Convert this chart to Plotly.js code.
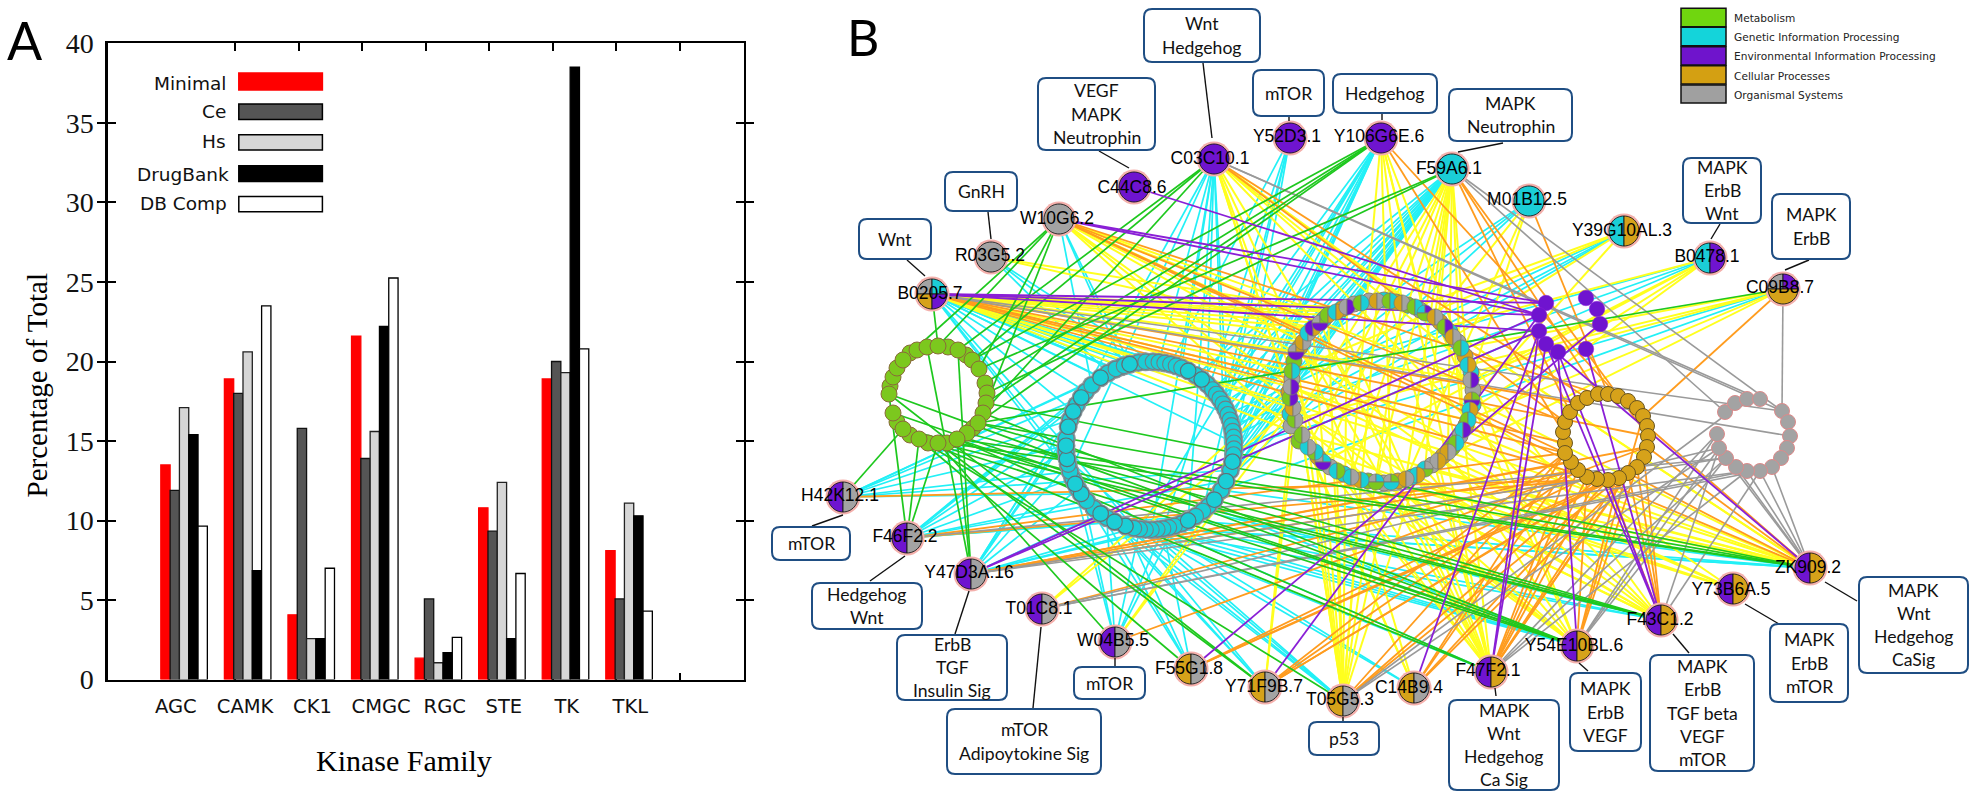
<!DOCTYPE html>
<html><head><meta charset="utf-8">
<script src="https://cdn.plot.ly/plotly-3.0.1.min.js"></script>
<style>html,body{margin:0;padding:0;background:#fff}</style></head>
<body><div id="chart" style="width:1979px;height:800px"></div>
<script>
// ---------- Panel A ----------
const families = ['AGC','CAMK','CK1','CMGC','RGC','STE','TK','TKL'];
const groupCenters = [0.2,1.2,2.2,3.2,4.2,5.2,6.2,7.2];
const familyLabelPos = [0.07,1.16,2.22,3.30,4.30,5.23,6.22,7.22];
const minimal = [13.5,18.9,4.07,21.6,1.35,10.8,18.9,8.1];
const ce = [11.9,18.0,15.8,13.9,5.07,9.33,20.0,5.07];
const hs = [17.1,20.6,2.57,15.6,1.06,12.4,19.3,11.1];
const drugBank = [15.4,6.85,2.57,22.2,1.7,2.57,38.5,10.3];
const dbComp = [9.65,23.5,7.0,25.25,2.66,6.67,20.8,4.3];
const topTicks = [1,2,3,4,5,6,7,8];
const seriesNames = ['Minimal','Ce','Hs','DrugBank','DB Comp'];
const seriesFill = ['#ff0000','#555555','#d6d6d6','#000000','#ffffff'];
const seriesLine = ['#ff0000','#111111','#222222','#000000','#000000'];

// ---------- Panel B : pathway category colours ----------
const categoryNames = ['Metabolism','Genetic Information Processing','Environmental Information Processing','Cellular Processes','Organismal Systems'];
const categoryColors = ['#70d60f','#14d4da','#6f14cc','#d4a012','#a0a0a0'];
const C = {G:'#7cc81e',T:'#1bced6',P:'#6f14cf',Y:'#d6a21a',A:'#a3a3a3'};

// hubs: name, node x, node y, label x, label y, category letters
const hubNames = ['C03C10.1','Y52D3.1','Y106G6E.6','C44C8.6','W10G6.2','R03G5.2','B0205.7','F59A6.1','M01B12.5','Y39G10AL.3','B0478.1','C09B8.7','H42K12.1','F46F2.2','Y47D3A.16','T01C8.1','W04B5.5','F55G1.8','Y71F9B.7','T05G5.3','C14B9.4','F47F2.1','Y54E10BL.6','F43C1.2','Y73B6A.5','ZK909.2'];
const hubX = [1214,1290,1381,1134,1059,991,932,1452,1529,1624,1710,1783,843,907,971,1042,1115,1191,1265,1343,1414,1491,1577,1661,1733,1810];
const hubY = [159,138,138,187,219,257,294,169,201,231,258,289,497,538,574,609,642,669,687,701,688,672,646,620,589,568];
const hubLabelX = [1210,1287,1379,1132,1057,990,930,1449,1527,1622,1707,1780,840,905,969,1039,1113,1189,1264,1340,1409,1488,1574,1660,1731,1808];
const hubLabelY = [160,138,138,189,220,257,295,170,201,232,258,289,497,538,574,610,642,670,688,701,689,672,647,621,591,569];
const hubCats = ['P','P','P','P','A','A','ATYP','T','T','TY','TP','APY','PA','PA','PA','PA','PA','YA','YA','YA','YA','PY','PY','PY','PY','PY'];

// ring nodes
const greenX = [910,890,897,910,928,947,973,966,948,958,972,979,985,987,986,983,978,967,957,938,919,903,893,889,893,897,903,917,927,938];
const greenY = [353,386,422,435,443,443,428,355,347,350,360,369,383,393,403,413,423,433,439,443,439,429,413,394,377,368,360,350,347,346];
const tealCx = 1150, tealCy = 445.7, tealR = 84;
const tealAngles = [-25,-20,-14,-8,-3,2,6,10,14,18,22,27,33,38,43,48,52,56,60,64,68,72,76,80,84,88,92,96,101,107,115,122,130,136,141,147,153,158,163,167,171,175,179,183,187,191,197,205,211,216,222,229,235,239,243,247,252,257,261,266,270,275,283,288,294,299,305,310,316,324,330,336,342,346];
const tealTopAngles = [-14,27,38,101,115,130,153,197,205,216,235,243,261,270,283,294,305,324];
const mixedBackX = [1369,1384,1396,1408,1420,1440,1450,1458,1465,1471,1473,1473,1466,1460,1452,1443,1432,1412,1398,1384,1368,1344,1330,1318,1299,1291,1290,1292,1289,1294,1300,1324,1342,1354];
const mixedBackY = [301,300,302,305,310,322,332,342,356,372,390,405,425,436,448,456,465,477,481,483,481,474,467,457,441,426,414,379,392,361,347,319,309,304];
const mixedBackCats = ['A','T','Y','G','A','Y','T','A','Y','T','A','T','Y','A','G','Y','A','T','Y','A','G','T','A','Y','G','A','T','A','Y','G','Y','T','Y','A'];
const mixedX = [1377,1390,1402,1415,1425,1435,1445,1453,1461,1468,1471,1472,1470,1468,1463,1456,1448,1438,1425,1417,1406,1391,1376,1361,1351,1337,1323,1315,1308,1302,1295,1293,1290,1291,1292,1296,1303,1308,1313,1320,1328,1336,1347,1361];
const mixedY = [301,301,303,307,313,317,327,337,348,365,380,400,410,420,430,443,452,461,469,475,479,482,482,480,477,471,462,452,447,435,420,408,398,387,371,352,342,333,328,323,315,312,307,303];
const mixedCats = ['YA','GT','YA','GT','TPG','YA','GP','YA','GT','TY','AP','YGP','TY','GT','TP','GT','YA','AY','TAG','TY','YA','AGT','ATG','YT','TA','TG','ATP','GT','TA','GA','GA','YA','GP','AP','GT','AYP','YA','TA','PY','AGP','GY','TY','AP','GT'];
const goldX = [1565,1563,1565,1570,1578,1587,1598,1608,1618,1628,1637,1643,1647,1648,1647,1644,1637,1628,1619,1608,1597,1587,1578,1571,1565];
const goldY = [443,432,422,412,403,398,394,394,396,401,408,416,426,436,447,457,467,473,478,480,479,477,470,462,453];
const grayX = [1725,1735,1747,1760,1782,1788,1790,1787,1781,1772,1760,1747,1736,1726,1719,1717];
const grayY = [412,403,399,399,411,422,436,448,458,467,471,471,467,458,448,434];
const purpleX = [1546,1586,1597,1539,1600,1539,1546,1558,1586];
const purpleY = [303,298,309,315,324,331,344,352,349];

// edges: for each hub, which ring nodes it links to (same order as hubNames)
const edgeGreen = [[9,10,15],[],[10,12,14,16],[],[11,15,26,29],[],[29],[11,13],[],[],[],[16],[21],[20,23,19],[18,9,28],[],[19],[20],[19,23],[21],[],[18,20],[15,18,20,22,23],[16,17,19,21],[],[14,16,18,20]];
const edgeCyan = [[6,10,14,20,30,36,42,56,64],[8,18,28,34,40],[13,16,18,21,24,26,29,32,44],[],[68,72,2],[70,73,5],[0,3,7,10,57,60,64,67,69,71,73,1,5,55,12,20,25],[12,15,17,19,20,22,23,25,27,28,31,33,35],[18,23,30],[20,24,27],[16,22,28],[26,31],[52,56,60,63,66,69,72,29],[47,51,55,59,62,65,68,71,35,30],[45,49,53,57,61,64,67,70,40,36],[],[40,44,48,55,38,62],[40,46,52,59],[47,54,60],[44,50,58,53],[41,52],[40,47],[33,39,45,49],[34,38,44],[],[31,36,40,46]];
const edgeYellow = [[0,3,6,9,13,23,20,32,26,29],[],[2,4,8,15,21,24],[],[37,36,40,33,25,21,15,10],[38,41],[34,35,36,37,38,39,40,41,42,33,31,30,29,10,13,16],[18,20,22,24,26,28,16,14,12,30,4,5],[5,10,20],[3,7,11,34],[6,10,12,15,26],[8,9,13,17,30],[],[],[],[33,31],[32,31],[],[30,31],[19,21,23,25,27,29,0,2,38,40,42,34,35],[24,28,30],[17,19,21,23,25,27,1,3,7,36,39,41],[16,18,21,23,26,30,5,9],[13,15,19,22,27,31,35,8],[12,17,21,28,33],[14,16,18,20,24,29,33,11,6,3]];
const edgeOrange = [[2,5],[],[1,8],[],[2,6,24,23],[],[0,4,13,20,24],[3,6,13],[7],[],[],[11],[19],[20,24],[14,17,22,23],[22],[14],[16,18,21],[15,19,22,24],[18,20,24],[16,19,23,24],[17,18,20,21,23,22,14],[16,18,21,11],[15,16,17,19],[],[12,14,17,20]];
const edgeGray = [[3,4],[],[],[],[],[],[4,6],[0,4],[],[],[],[4],[],[13],[11,13],[10,11,14],[],[],[],[14,2],[],[13,15,11],[13,14,15],[14,10],[],[9,10,11,12,13]];
const edgePurple = [[],[],[],[3],[0,3],[],[0,3,5],[],[],[],[],[],[],[],[3,5],[],[],[4],[3],[],[5],[5,6],[7],[6,7,8],[],[6]];

// pathway call-out boxes
const boxLines = [['Wnt','Hedgehog'],['VEGF','MAPK','Neutrophin'],['mTOR'],['Hedgehog'],['GnRH'],['Wnt'],['MAPK','Neutrophin'],['MAPK','ErbB','Wnt'],['MAPK','ErbB'],['mTOR'],['Hedgehog','Wnt'],['ErbB','TGF','Insulin Sig'],['mTOR','Adipoytokine Sig'],['mTOR'],['p53'],['MAPK','Wnt','Hedgehog','Ca Sig'],['MAPK','ErbB','VEGF'],['MAPK','ErbB','TGF beta','VEGF','mTOR'],['MAPK','ErbB','mTOR'],['MAPK','Wnt','Hedgehog','CaSig']];
const boxX0 = [1144,1038,1253,1333,945,859,1449,1683,1772,772,812,897,947,1074,1309,1449,1570,1650,1770,1859];
const boxX1 = [1260,1155,1324,1437,1017,931,1572,1761,1850,850,922,1007,1101,1145,1379,1559,1641,1754,1848,1968];
const boxY0 = [9,78,70,74,172,219,89,158,194,527,583,635,709,667,722,700,673,655,624,577];
const boxY1 = [62,150,116,113,211,259,141,223,259,560,629,700,774,699,755,790,751,771,702,673];
// black leader lines between box and node
const leaderX0 = [1203,1099,1289,1382,988,907,1503,1720,1809,843,905,969,1041,1115,1343,1495,1579,1673,1745,1825];
const leaderY0 = [63,151,117,113,212,260,143,224,260,515,556,591,627,658,717,688,663,634,604,582];
const leaderX1 = [1212,1129,1289,1382,991,925,1458,1711,1785,812,870,955,1033,1115,1343,1496,1588,1689,1779,1857];
const leaderY1 = [138,168,121,120,239,276,152,239,270,526,581,634,708,667,722,696,671,653,624,601];

// ---------- helpers ----------
const px = x => x/1979, py = y => 1-y/800;
const NX = 'x2', NY = 'y2';
const tealX = tealAngles.map(a => tealCx+tealR*Math.sin(a*Math.PI/180));
const tealY = tealAngles.map(a => tealCy-tealR*Math.cos(a*Math.PI/180));
const tealTopX = tealTopAngles.map(a => tealCx+tealR*Math.sin(a*Math.PI/180));
const tealTopY = tealTopAngles.map(a => tealCy-tealR*Math.cos(a*Math.PI/180));

function edgeTrace(table, tx, ty, color, width){
  const xs=[], ys=[];
  table.forEach((list,h)=>list.forEach(t=>{xs.push(hubX[h],tx[t],null);ys.push(hubY[h],ty[t],null);}));
  return {type:'scatter',mode:'lines',x:xs,y:ys,xaxis:NX,yaxis:NY,line:{color:color,width:width},hoverinfo:'skip',showlegend:false};
}
function nodeTrace(xs,ys,fill,border,d,bw){
  return {type:'scatter',mode:'markers',x:xs,y:ys,xaxis:NX,yaxis:NY,hoverinfo:'skip',showlegend:false,
    marker:{size:d,color:fill,line:{color:border,width:bw}}};
}
function sliceTrace(cx,cy,r,a0,a1,color,edge,w){
  const xs=[],ys=[];
  if(a1-a0<360){xs.push(cx);ys.push(cy);}
  for(let a=a0;a<=a1+0.01;a+=6){xs.push(cx+r*Math.sin(a*Math.PI/180));ys.push(cy-r*Math.cos(a*Math.PI/180));}
  xs.push(xs[0]);ys.push(ys[0]);
  return {type:'scatter',mode:'lines',x:xs,y:ys,xaxis:NX,yaxis:NY,fill:'toself',fillcolor:color,
    line:{color:edge,width:w,simplify:false},hoverinfo:'skip',showlegend:false};
}
function pieTraces(cx,cy,r,cats,edge,w){
  const c=cats.split('').map(k=>C[k]);
  if(c.length===1) return [sliceTrace(cx,cy,r,0,360,c[0],edge,w)];
  if(c.length===2) return [sliceTrace(cx,cy,r,180,360,c[0],edge,w),sliceTrace(cx,cy,r,0,180,c[1],edge,w)];
  if(c.length===3) return [sliceTrace(cx,cy,r,270,360,c[0],edge,w),sliceTrace(cx,cy,r,0,90,c[1],edge,w),sliceTrace(cx,cy,r,90,270,c[2],edge,w)];
  return [sliceTrace(cx,cy,r,270,360,c[0],edge,w),sliceTrace(cx,cy,r,0,90,c[1],edge,w),sliceTrace(cx,cy,r,180,270,c[2],edge,w),sliceTrace(cx,cy,r,90,180,c[3],edge,w)];
}

// ---------- traces ----------
const traces = [];
[minimal,ce,hs,drugBank,dbComp].forEach((v,k)=>traces.push({type:'bar',name:seriesNames[k],x:groupCenters,y:v,
  marker:{color:seriesFill[k],line:{color:seriesLine[k],width:1.3}},showlegend:false,xaxis:'x',yaxis:'y'}));
traces.push({type:'scatter',mode:'markers',x:[null],y:[null],xaxis:'x3',yaxis:'y',showlegend:false,hoverinfo:'skip'});

traces.push(edgeTrace(edgeCyan,tealX,tealY,'#22f0f6',1.7));
traces.push(edgeTrace(edgeYellow,mixedX,mixedY,'#ffff1e',2.0));
traces.push(edgeTrace(edgeOrange,goldX,goldY,'#ff9c1e',1.8));
traces.push(edgeTrace(edgeGray,grayX,grayY,'#9a9a9a',1.6));
traces.push(edgeTrace(edgeGreen,greenX,greenY,'#1ec81e',1.7));
traces.push(edgeTrace(edgePurple,purpleX,purpleY,'#8a1fd6',1.8));

traces.push(nodeTrace(greenX,greenY,C.G,'#8a6a3a',16,1));
traces.push(nodeTrace(tealX,tealY,'#8a989c','#8a989c',19,0));
traces.push(nodeTrace(tealX,tealY,C.T,'#6f7f86',15.5,1.1));
traces.push(nodeTrace(tealTopX,tealTopY,C.T,'#5f7076',15.5,1.1));
traces.push(nodeTrace(mixedBackX,mixedBackY,mixedBackCats.map(k=>C[k]),'#8a8270',16,1));
mixedX.forEach((x,i)=>pieTraces(x,mixedY[i],8,mixedCats[i],'#7a7a70',0.8).forEach(t=>traces.push(t)));
traces.push(nodeTrace(goldX,goldY,C.Y,'#6a5520',15,1));
traces.push(nodeTrace(grayX,grayY,C.A,'#dd8a8a',15,1));
traces.push(nodeTrace(purpleX,purpleY,'#6f14cf','#8a1fd6',15.5,0.5));

traces.push(nodeTrace(hubX,hubY,'#f4b0ac','#f4b0ac',35,0));
hubX.forEach((x,i)=>pieTraces(x,hubY[i],15,hubCats[i],'#1a1a1a',0.9).forEach(t=>traces.push(t)));

const lx=[],ly=[];
leaderX0.forEach((x,i)=>{lx.push(x,leaderX1[i],null);ly.push(leaderY0[i],leaderY1[i],null);});
traces.push({type:'scatter',mode:'lines',x:lx,y:ly,xaxis:NX,yaxis:NY,line:{color:'#111',width:1.4},hoverinfo:'skip',showlegend:false});
traces.push({type:'scatter',mode:'text',x:hubLabelX,y:hubLabelY,text:hubNames,textposition:'middle center',xaxis:NX,yaxis:NY,
  textfont:{family:'Liberation Sans',size:17.5,color:'#000'},cliponaxis:false,hoverinfo:'skip',showlegend:false});

// ---------- shapes & annotations ----------
const shapes=[], annotations=[];
const swatchTop=[73,104,134.7,165.8,196.4], swatchBot=[90,119.4,150,181.6,211.7];
const legendLabelRight=[228,228,228,230.6,229], legendLabelY=[83,111.7,141,174,203.6];
seriesNames.forEach((n,i)=>{
  shapes.push({type:'rect',xref:'paper',yref:'paper',x0:px(238.8),x1:px(322.4),y0:py(swatchTop[i]),y1:py(swatchBot[i]),
    fillcolor:seriesFill[i],line:{color:i===0?'#ff0000':'#000',width:1.5}});
  annotations.push({xref:'paper',yref:'paper',x:px(legendLabelRight[i]),y:py(legendLabelY[i]),text:n,showarrow:false,xanchor:'right',yanchor:'middle',
    font:{family:'DejaVu Sans',size:18.5,color:'#111'}});
});
annotations.push({xref:'paper',yref:'paper',x:px(404),y:py(760),xanchor:'center',yanchor:'middle',text:'Kinase Family',showarrow:false,font:{family:'Liberation Serif',size:30,color:'#000'}});
annotations.push({xref:'paper',yref:'paper',x:px(36.5),y:py(385),xanchor:'center',yanchor:'middle',text:'Percentage of Total',textangle:-90,showarrow:false,font:{family:'Liberation Serif',size:29,color:'#000'}});
annotations.push({xref:'paper',yref:'paper',x:px(24.5),y:py(40),xanchor:'center',yanchor:'middle',text:'A',showarrow:false,font:{family:'Lato',size:52,color:'#000'}});
annotations.push({xref:'paper',yref:'paper',x:px(863),y:py(37),xanchor:'center',yanchor:'middle',text:'B',showarrow:false,font:{family:'Lato',size:50,color:'#000'}});

const swY0=[8.3,27.3,46.7,65.7,85], swY1=[26.7,45.7,65,84,103], swTextY=[18,37,56,76,95];
categoryNames.forEach((n,i)=>{
  shapes.push({type:'rect',xref:NX,yref:NY,x0:1681,x1:1726,y0:swY0[i],y1:swY1[i],fillcolor:categoryColors[i],line:{color:'#111',width:1.5}});
  annotations.push({xref:NX,yref:NY,x:1731.5,y:swTextY[i],text:n,showarrow:false,xanchor:'left',yanchor:'middle',font:{family:'DejaVu Sans',size:10.6,color:'#222'}});
});

boxLines.forEach((lines,i)=>{
  const a=boxX0[i],b=boxX1[i],c=boxY0[i],d=boxY1[i],r=8;
  shapes.push({type:'path',xref:NX,yref:NY,layer:'above',fillcolor:'#fff',line:{color:'#1f4e83',width:2},
    path:`M ${a+r} ${c} L ${b-r} ${c} Q ${b} ${c} ${b} ${c+r} L ${b} ${d-r} Q ${b} ${d} ${b-r} ${d} L ${a+r} ${d} Q ${a} ${d} ${a} ${d-r} L ${a} ${c+r} Q ${a} ${c} ${a+r} ${c} Z`});
  const mid=(c+d)/2, pitch=23.3;
  lines.forEach((t,k)=>annotations.push({xref:NX,yref:NY,x:(a+b)/2,y:mid+(k-(lines.length-1)/2)*pitch,xanchor:'center',yanchor:'middle',text:t,showarrow:false,
    font:{family:'Lato',size:17.6,color:'#111'}}));
});

const layout={
  width:1979,height:800,autosize:false,margin:{l:0,r:0,t:0,b:0},paper_bgcolor:'#fff',plot_bgcolor:'rgba(0,0,0,0)',
  showlegend:false,barmode:'group',bargap:0.268,bargroupgap:0,hovermode:false,shapes:shapes,annotations:annotations,
  xaxis:{domain:[px(107.8),px(743.5)],range:[-1,9],anchor:'y',tickmode:'array',tickvals:familyLabelPos,ticktext:families,ticks:'',ticklen:0,ticklabelstandoff:7,
    tickfont:{family:'DejaVu Sans',size:19.5,color:'#111'},showline:true,mirror:true,linecolor:'#000',linewidth:2.5,showgrid:false,zeroline:false,layer:'below traces',
    minor:{tickmode:'array',tickvals:topTicks,ticks:'inside',ticklen:7,tickwidth:2,tickcolor:'#000',showgrid:false}},
  xaxis3:{overlaying:'x',side:'top',anchor:'y',range:[-1,9],tickmode:'array',tickvals:topTicks,ticktext:topTicks.map(()=>''),ticks:'inside',ticklen:8,tickwidth:2,tickcolor:'#000',showline:false,showgrid:false,zeroline:false},
  yaxis:{domain:[py(679.6),py(43.4)],range:[0,40],anchor:'x',tickmode:'array',tickvals:[0,5,10,15,20,25,30,35,40],ticks:'inside',ticklen:8,tickwidth:2,tickcolor:'#000',
    tickfont:{family:'Liberation Serif',size:28,color:'#111'},showline:true,mirror:'allticks',linecolor:'#000',linewidth:2.5,showgrid:false,zeroline:false,ticklabelstandoff:6},
  xaxis2:{domain:[px(760),1],range:[760,1979],anchor:'y2',visible:false,fixedrange:true},
  yaxis2:{domain:[0,1],range:[800,0],anchor:'x2',visible:false,fixedrange:true}
};
Plotly.newPlot('chart',traces,layout,{displayModeBar:false,staticPlot:true});
</script></body></html>
